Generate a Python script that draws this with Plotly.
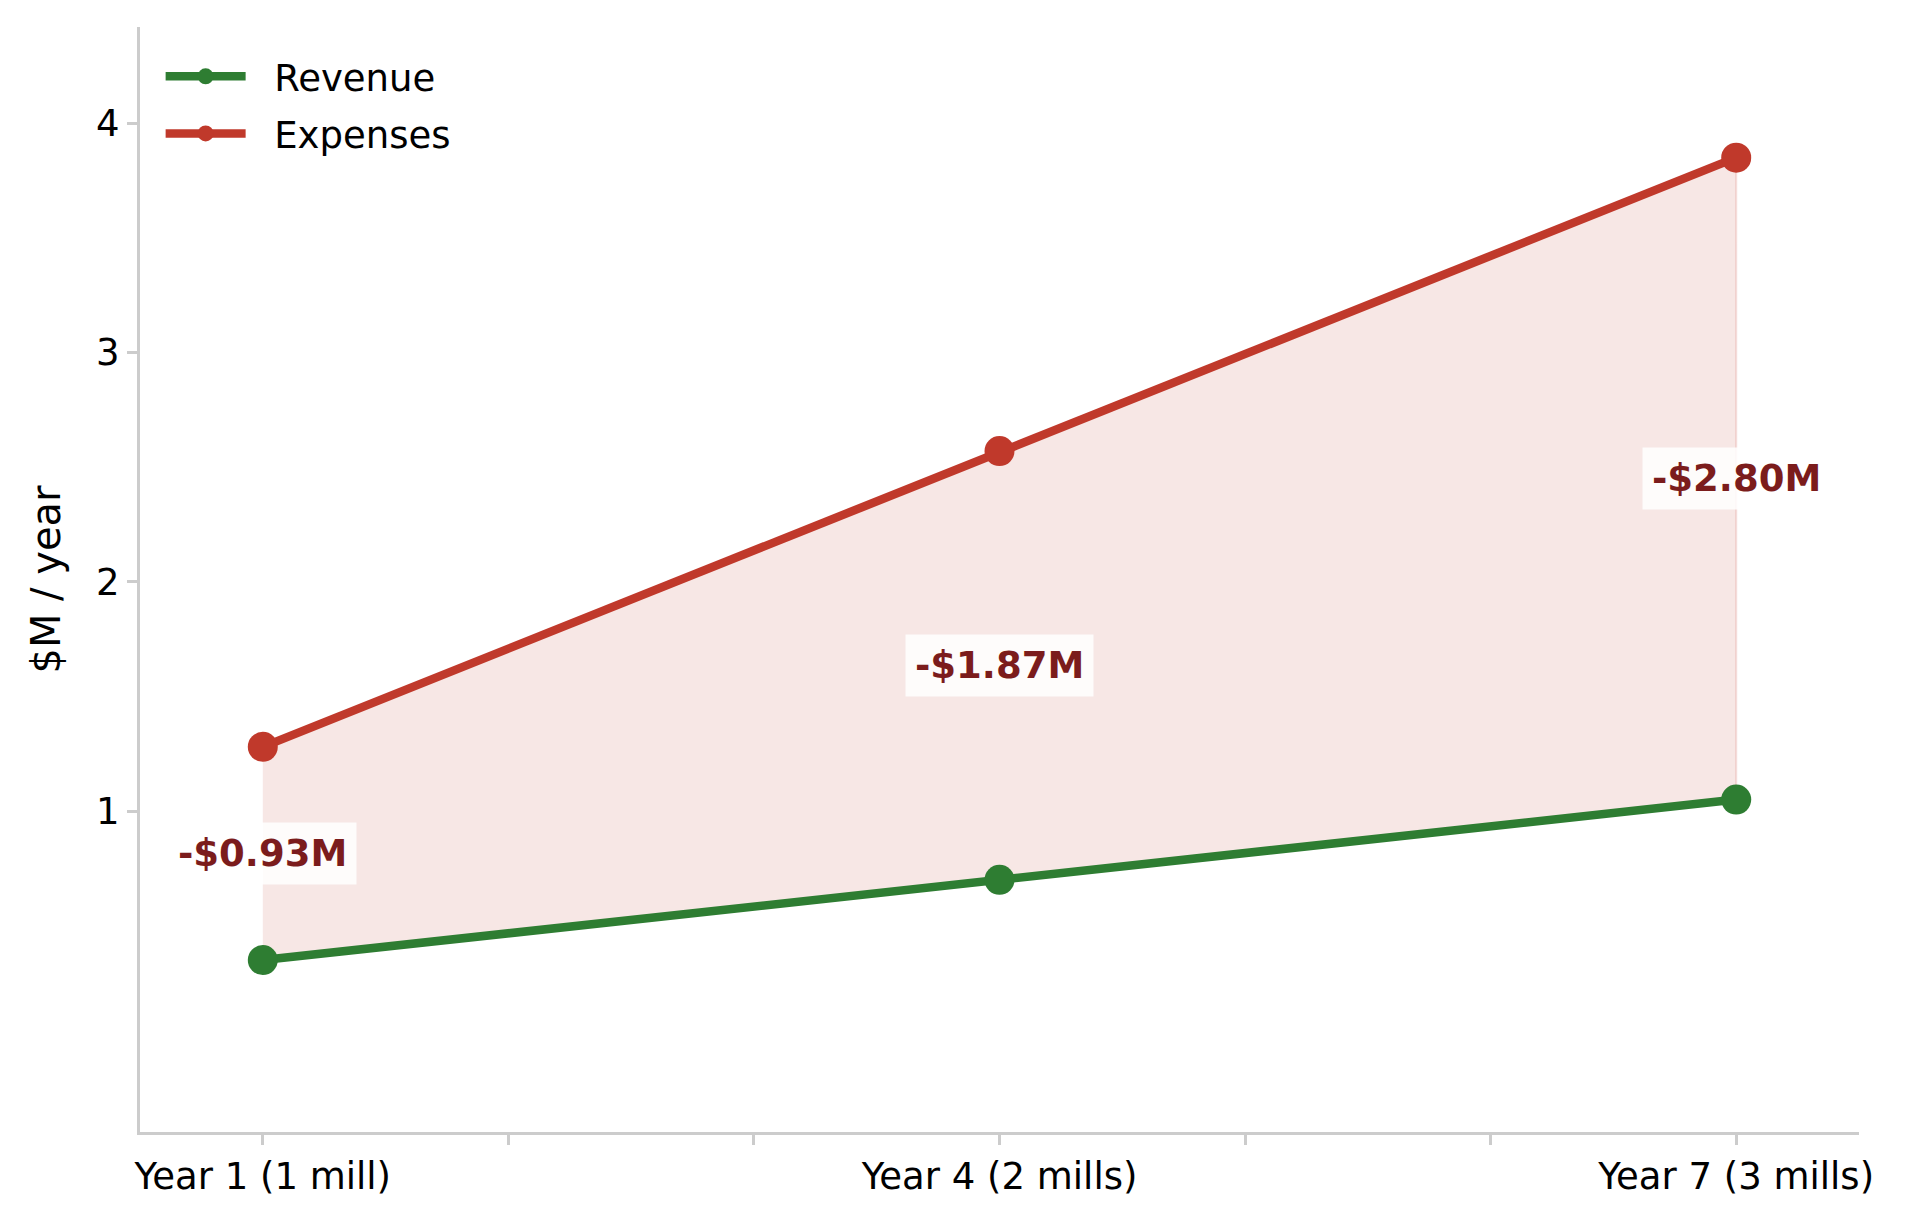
import plotly.graph_objects as go

# values ($M / year)
years = [1, 4, 7]
tick_years = [1, 2, 3, 4, 5, 6, 7]
tick_text = ["Year 1 (1 mill)", "", "", "Year 4 (2 mills)", "", "", "Year 7 (3 mills)"]
revenue = [0.35, 0.70, 1.05]
expenses = [1.28, 2.57, 3.85]
gap_labels = ["-$0.93M", "-$1.87M", "-$2.80M"]

GREEN = "#2e7d32"
RED = "#c0392b"
DARK_RED = "#7b1c1c"
AXIS_GREY = "#cccccc"
FONT = "DejaVu Sans"
PAD = "\u00a0\u00a0"  # push legend text away from the symbol a bit

fig = go.Figure()

# shaded gap between expenses and revenue
fig.add_trace(go.Scatter(
    x=years + years[::-1],
    y=expenses + revenue[::-1],
    fill="toself",
    fillcolor="rgba(192,57,43,0.12)",
    line=dict(color="rgba(192,57,43,0.15)", width=2),
    mode="lines",
    showlegend=False,
    hoverinfo="skip",
))

fig.add_trace(go.Scatter(
    x=years, y=revenue, name=PAD + "Revenue", mode="lines+markers",
    legendgroup="rev",
    line=dict(color=GREEN, width=8.5),
    marker=dict(color=GREEN, size=30),
))
fig.add_trace(go.Scatter(
    x=years, y=expenses, name=PAD + "Expenses", mode="lines+markers",
    legendgroup="exp",
    line=dict(color=RED, width=8.5),
    marker=dict(color=RED, size=30),
))

for x, r, e, txt in zip(years, revenue, expenses, gap_labels):
    fig.add_annotation(
        x=x, y=(r + e) / 2, text="<b>" + txt + "</b>", showarrow=False,
        font=dict(family=FONT, size=37, color=DARK_RED),
        bgcolor="rgba(255,255,255,0.85)", borderpad=9,
    )

fig.update_layout(
    width=1905, height=1226,
    margin=dict(l=132, r=54, t=19, b=102),
    paper_bgcolor="white", plot_bgcolor="white",
    font=dict(family=FONT, size=37, color="black"),
    legend=dict(
        x=0.012, y=0.983, xanchor="left", yanchor="top",
        font=dict(family=FONT, size=37, color="black"),
        bgcolor="rgba(255,255,255,0)", tracegroupgap=6,
        itemwidth=80, itemsizing="trace",
    ),
)

fig.update_xaxes(
    range=[0.5, 7.5], tickmode="array", tickvals=tick_years, ticktext=tick_text,
    showline=True, linecolor=AXIS_GREY, linewidth=3,
    ticks="outside", ticklen=10, tickwidth=3, tickcolor=AXIS_GREY,
    showgrid=False, zeroline=False,
    tickfont=dict(family=FONT, size=37, color="black"),
)
fig.update_yaxes(
    range=[-0.4, 4.42], tickmode="array", tickvals=[1, 2, 3, 4],
    showline=True, linecolor=AXIS_GREY, linewidth=3,
    ticks="outside", ticklen=10, tickwidth=3, tickcolor=AXIS_GREY,
    showgrid=False, zeroline=False,
    tickfont=dict(family=FONT, size=37, color="black"),
    title=dict(text="$M / year", font=dict(family=FONT, size=40, color="black"), standoff=24),
)

fig.write_html("out.html")
